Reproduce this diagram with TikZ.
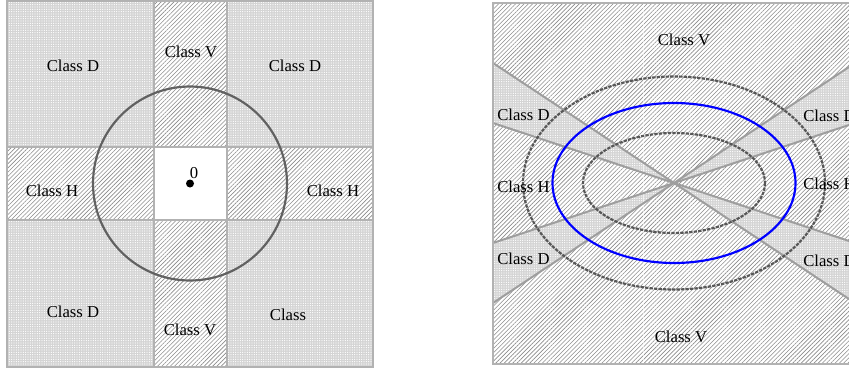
\documentclass[tikz,border=0pt]{standalone}
\usepackage{fontspec}
\setmainfont{Liberation Serif}
\usetikzlibrary{patterns.meta}
\tikzset{
  dzone/.style={preaction={fill=black!17}, pattern={Dots[distance=1.4pt, radius=0.38pt]}, pattern color=white},
  vhzone/.style={preaction={fill=white}, pattern={Lines[angle=45, distance=1.8pt, line width=0.35pt]}, pattern color=black!45},
  gridline/.style={draw=black!30, line width=1.2pt},
  wedgeline/.style={draw=black!38, line width=1.2pt},
  circleline/.style={draw=black!62, line width=1.3pt},
  dashring/.style={draw=black!66, line width=1.3pt, dash pattern=on 2pt off 0.7pt},
  bluering/.style={draw=blue, line width=1.3pt},
  classlabel/.style={font=\fontsize{10}{12}\selectfont, inner sep=0pt},
}
\begin{document}
\begin{tikzpicture}[x=0.6pt, y=-0.6pt]
  \useasboundingbox (0,0) rectangle (849,371);

  % left panel
  \coordinate (lb1) at (7,1);
  \coordinate (lb2) at (373,367);
  \coordinate (o1) at (190,183.5);
  \fill[dzone] (lb1) rectangle (lb2);
  \fill[vhzone] (154,1) rectangle (227,367);
  \fill[vhzone] (7,147) rectangle (373,220);
  \fill[white] (154,147) rectangle (227,220);
  \coordinate (vt1) at (154,0);   \coordinate (vb1) at (154,367);
  \coordinate (vt2) at (227,0);   \coordinate (vb2) at (227,367);
  \coordinate (hl1) at (7,147);   \coordinate (hr1) at (373,147);
  \coordinate (hl2) at (7,220);   \coordinate (hr2) at (373,220);
  \draw[gridline] (vt1) -- (vb1);
  \draw[gridline] (vt2) -- (vb2);
  \draw[gridline] (hl1) -- (hr1);
  \draw[gridline] (hl2) -- (hr2);
  \draw[gridline] (lb1) rectangle (lb2);
  \draw[circleline] (o1) circle [radius=97];
  \fill (o1) circle [radius=4];
  \node[classlabel] (zero) at (194,173) {0};

  \node[classlabel] (d1) at (73,66) {Class D};
  \node[classlabel] (v1) at (191,52) {Class V};
  \node[classlabel] (d2) at (295,66) {Class D};
  \node[classlabel] (h1) at (52,191) {Class H};
  \node[classlabel] (h2) at (333,191) {Class H};
  \node[classlabel] (d3) at (73,312) {Class D};
  \node[classlabel] (v2) at (190,330) {Class V};
  \node[classlabel] (d4) at (288,315) {Class};

  % right panel
  \coordinate (o2) at (674,183);
  \coordinate (rb1) at (493,3);
  \coordinate (rb2) at (860,364);
  \coordinate (lA) at (493,63);   \coordinate (rA) at (855,63);
  \coordinate (lB) at (493,123);  \coordinate (rB) at (855,123);
  \coordinate (lC) at (493,243);  \coordinate (rC) at (855,243);
  \coordinate (lD) at (493,303);  \coordinate (rD) at (855,303);
  \coordinate (ft) at (643,3);    \coordinate (fb) at (643,364);
  \begin{scope}
    \clip (0,0) rectangle (849,371);
    \fill[vhzone] (rb1) rectangle (rb2);
    \fill[dzone] (o2) -- (lA) -- (lB) -- cycle;
    \fill[dzone] (o2) -- (lC) -- (lD) -- cycle;
    \fill[dzone] (o2) -- (rA) -- (rB) -- cycle;
    \fill[dzone] (o2) -- (rC) -- (rD) -- cycle;
    \draw[white, line width=0.6pt, opacity=0.6] (ft) -- (fb);
    \draw[wedgeline] (lA) -- (rD);
    \draw[wedgeline] (lB) -- (rC);
    \draw[wedgeline] (lC) -- (rB);
    \draw[wedgeline] (lD) -- (rA);
    \draw[dashring] (o2) ellipse [x radius=151, y radius=106.5];
    \draw[bluering] (o2) ellipse [x radius=121.5, y radius=80];
    \draw[dashring] (o2) ellipse [x radius=91, y radius=50];
    \draw[gridline] (rb1) rectangle (rb2);
  \end{scope}

  \node[classlabel] (v3) at (684,40) {Class V};
  \node[classlabel] (v4) at (681,337) {Class V};
  \node[classlabel, anchor=west] (d5) at (497,115) {Class D};
  \node[classlabel, anchor=west] (h3) at (497,187) {Class H};
  \node[classlabel, anchor=west] (d6) at (497,259) {Class D};
  \node[classlabel, anchor=west] (d7) at (803,116) {Class D};
  \node[classlabel, anchor=west] (h4) at (803,184) {Class H};
  \node[classlabel, anchor=west] (d8) at (803,261) {Class D};
\end{tikzpicture}
\end{document}
